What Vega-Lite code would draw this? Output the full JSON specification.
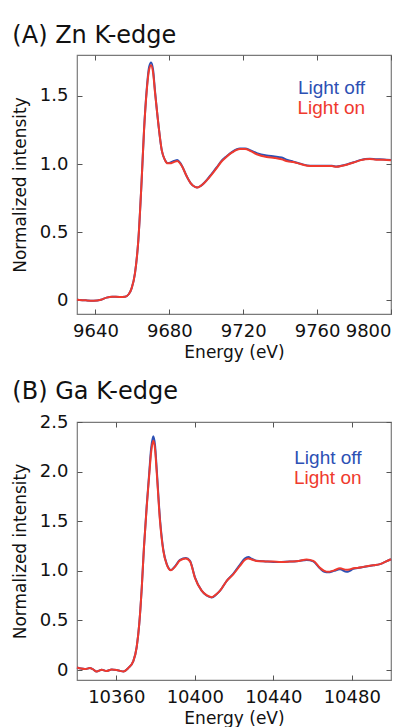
{
  "$schema": "https://vega.github.io/schema/vega-lite/v6.json",
  "padding": {"left": 10, "top": 22, "right": 5, "bottom": 5},
  "spacing": 18,
  "config": {
    "font": "DejaVu Sans",
    "view": {"stroke": "#7a7a7a", "strokeWidth": 1.2},
    "axis": {"domain": false, "grid": false, "tickColor": "#555555", "tickSize": -5, "tickWidth": 1, "labelFontSize": 18, "labelColor": "#111111", "titleFontSize": 17, "titleFontWeight": "normal", "titleColor": "#111111", "labelFont": "DejaVu Sans", "titleFont": "DejaVu Sans"},
    "title": {"fontSize": 24, "fontWeight": "normal", "color": "#111111", "font": "DejaVu Sans", "anchor": "start"},
    "line": {"strokeWidth": 2, "interpolate": "monotone"}
  },
  "datasets": {
    "zn": [
      {"E": 9630, "v": 0.005, "series": "Light off"},
      {"E": 9635, "v": 0.0, "series": "Light off"},
      {"E": 9639, "v": -0.002, "series": "Light off"},
      {"E": 9643, "v": 0.005, "series": "Light off"},
      {"E": 9646, "v": 0.02, "series": "Light off"},
      {"E": 9649, "v": 0.027, "series": "Light off"},
      {"E": 9653, "v": 0.025, "series": "Light off"},
      {"E": 9656, "v": 0.027, "series": "Light off"},
      {"E": 9658, "v": 0.045, "series": "Light off"},
      {"E": 9659.6, "v": 0.09, "series": "Light off"},
      {"E": 9661.4, "v": 0.2, "series": "Light off"},
      {"E": 9663.2, "v": 0.44, "series": "Light off"},
      {"E": 9665, "v": 0.88, "series": "Light off"},
      {"E": 9666.3, "v": 1.25, "series": "Light off"},
      {"E": 9667.7, "v": 1.54, "series": "Light off"},
      {"E": 9669, "v": 1.71, "series": "Light off"},
      {"E": 9670.1, "v": 1.745, "series": "Light off"},
      {"E": 9671.2, "v": 1.69, "series": "Light off"},
      {"E": 9672.2, "v": 1.54, "series": "Light off"},
      {"E": 9674, "v": 1.3, "series": "Light off"},
      {"E": 9675.9, "v": 1.1, "series": "Light off"},
      {"E": 9677.6, "v": 1.03, "series": "Light off"},
      {"E": 9679, "v": 1.008, "series": "Light off"},
      {"E": 9680.4, "v": 1.01, "series": "Light off"},
      {"E": 9682.5, "v": 1.022, "series": "Light off"},
      {"E": 9684.3, "v": 1.03, "series": "Light off"},
      {"E": 9685.8, "v": 1.01, "series": "Light off"},
      {"E": 9687, "v": 0.982, "series": "Light off"},
      {"E": 9689.4, "v": 0.91, "series": "Light off"},
      {"E": 9691.5, "v": 0.86, "series": "Light off"},
      {"E": 9693.9, "v": 0.832, "series": "Light off"},
      {"E": 9695, "v": 0.828, "series": "Light off"},
      {"E": 9697, "v": 0.84, "series": "Light off"},
      {"E": 9700.2, "v": 0.882, "series": "Light off"},
      {"E": 9703, "v": 0.93, "series": "Light off"},
      {"E": 9705.6, "v": 0.975, "series": "Light off"},
      {"E": 9708, "v": 1.02, "series": "Light off"},
      {"E": 9711, "v": 1.058, "series": "Light off"},
      {"E": 9714, "v": 1.09, "series": "Light off"},
      {"E": 9718.2, "v": 1.115, "series": "Light off"},
      {"E": 9721, "v": 1.115, "series": "Light off"},
      {"E": 9724, "v": 1.1, "series": "Light off"},
      {"E": 9727.3, "v": 1.08, "series": "Light off"},
      {"E": 9732.7, "v": 1.062, "series": "Light off"},
      {"E": 9737, "v": 1.056, "series": "Light off"},
      {"E": 9740.8, "v": 1.048, "series": "Light off"},
      {"E": 9744, "v": 1.03, "series": "Light off"},
      {"E": 9747.1, "v": 1.018, "series": "Light off"},
      {"E": 9751, "v": 1.002, "series": "Light off"},
      {"E": 9756.2, "v": 0.987, "series": "Light off"},
      {"E": 9763.4, "v": 0.988, "series": "Light off"},
      {"E": 9768, "v": 0.987, "series": "Light off"},
      {"E": 9770.6, "v": 0.982, "series": "Light off"},
      {"E": 9773, "v": 0.987, "series": "Light off"},
      {"E": 9776, "v": 0.997, "series": "Light off"},
      {"E": 9780, "v": 1.014, "series": "Light off"},
      {"E": 9783.2, "v": 1.029, "series": "Light off"},
      {"E": 9786, "v": 1.037, "series": "Light off"},
      {"E": 9788.6, "v": 1.039, "series": "Light off"},
      {"E": 9792, "v": 1.035, "series": "Light off"},
      {"E": 9796, "v": 1.034, "series": "Light off"},
      {"E": 9800, "v": 1.03, "series": "Light off"},
      {"E": 9630, "v": 0.005, "series": "Light on"},
      {"E": 9635, "v": 0.0, "series": "Light on"},
      {"E": 9639, "v": -0.002, "series": "Light on"},
      {"E": 9643, "v": 0.005, "series": "Light on"},
      {"E": 9646, "v": 0.02, "series": "Light on"},
      {"E": 9649, "v": 0.027, "series": "Light on"},
      {"E": 9653, "v": 0.025, "series": "Light on"},
      {"E": 9656, "v": 0.027, "series": "Light on"},
      {"E": 9658, "v": 0.045, "series": "Light on"},
      {"E": 9659.6, "v": 0.09, "series": "Light on"},
      {"E": 9661.4, "v": 0.2, "series": "Light on"},
      {"E": 9663.2, "v": 0.44, "series": "Light on"},
      {"E": 9665, "v": 0.88, "series": "Light on"},
      {"E": 9666.3, "v": 1.25, "series": "Light on"},
      {"E": 9667.7, "v": 1.53, "series": "Light on"},
      {"E": 9669, "v": 1.69, "series": "Light on"},
      {"E": 9670.1, "v": 1.725, "series": "Light on"},
      {"E": 9671.2, "v": 1.67, "series": "Light on"},
      {"E": 9672.2, "v": 1.53, "series": "Light on"},
      {"E": 9674, "v": 1.3, "series": "Light on"},
      {"E": 9675.9, "v": 1.1, "series": "Light on"},
      {"E": 9677.6, "v": 1.03, "series": "Light on"},
      {"E": 9679, "v": 1.005, "series": "Light on"},
      {"E": 9680.4, "v": 1.005, "series": "Light on"},
      {"E": 9682.5, "v": 1.015, "series": "Light on"},
      {"E": 9684.3, "v": 1.022, "series": "Light on"},
      {"E": 9685.8, "v": 1.005, "series": "Light on"},
      {"E": 9687, "v": 0.98, "series": "Light on"},
      {"E": 9689.4, "v": 0.91, "series": "Light on"},
      {"E": 9691.5, "v": 0.86, "series": "Light on"},
      {"E": 9693.9, "v": 0.832, "series": "Light on"},
      {"E": 9695, "v": 0.828, "series": "Light on"},
      {"E": 9697, "v": 0.84, "series": "Light on"},
      {"E": 9700.2, "v": 0.88, "series": "Light on"},
      {"E": 9703, "v": 0.925, "series": "Light on"},
      {"E": 9705.6, "v": 0.97, "series": "Light on"},
      {"E": 9708, "v": 1.015, "series": "Light on"},
      {"E": 9711, "v": 1.054, "series": "Light on"},
      {"E": 9714, "v": 1.085, "series": "Light on"},
      {"E": 9718.2, "v": 1.11, "series": "Light on"},
      {"E": 9721, "v": 1.11, "series": "Light on"},
      {"E": 9724, "v": 1.095, "series": "Light on"},
      {"E": 9727.3, "v": 1.072, "series": "Light on"},
      {"E": 9732.7, "v": 1.052, "series": "Light on"},
      {"E": 9737, "v": 1.045, "series": "Light on"},
      {"E": 9740.8, "v": 1.035, "series": "Light on"},
      {"E": 9744, "v": 1.02, "series": "Light on"},
      {"E": 9747.1, "v": 1.015, "series": "Light on"},
      {"E": 9751, "v": 1.0, "series": "Light on"},
      {"E": 9756.2, "v": 0.985, "series": "Light on"},
      {"E": 9763.4, "v": 0.986, "series": "Light on"},
      {"E": 9768, "v": 0.985, "series": "Light on"},
      {"E": 9770.6, "v": 0.98, "series": "Light on"},
      {"E": 9773, "v": 0.985, "series": "Light on"},
      {"E": 9776, "v": 0.995, "series": "Light on"},
      {"E": 9780, "v": 1.012, "series": "Light on"},
      {"E": 9783.2, "v": 1.027, "series": "Light on"},
      {"E": 9786, "v": 1.035, "series": "Light on"},
      {"E": 9788.6, "v": 1.037, "series": "Light on"},
      {"E": 9792, "v": 1.032, "series": "Light on"},
      {"E": 9796, "v": 1.032, "series": "Light on"},
      {"E": 9800, "v": 1.028, "series": "Light on"}
    ],
    "ga": [
      {"E": 10340, "v": 0.026, "series": "Light off"},
      {"E": 10342, "v": 0.015, "series": "Light off"},
      {"E": 10344, "v": 0.01, "series": "Light off"},
      {"E": 10346.6, "v": 0.02, "series": "Light off"},
      {"E": 10348, "v": 0.01, "series": "Light off"},
      {"E": 10350, "v": -0.014, "series": "Light off"},
      {"E": 10352.6, "v": 0.003, "series": "Light off"},
      {"E": 10355, "v": -0.01, "series": "Light off"},
      {"E": 10357.7, "v": 0.006, "series": "Light off"},
      {"E": 10360.2, "v": 0.0, "series": "Light off"},
      {"E": 10362, "v": -0.008, "series": "Light off"},
      {"E": 10363.6, "v": -0.014, "series": "Light off"},
      {"E": 10366.1, "v": 0.02, "series": "Light off"},
      {"E": 10368.7, "v": 0.09, "series": "Light off"},
      {"E": 10370.4, "v": 0.23, "series": "Light off"},
      {"E": 10371.7, "v": 0.46, "series": "Light off"},
      {"E": 10373, "v": 0.83, "series": "Light off"},
      {"E": 10374.1, "v": 1.23, "series": "Light off"},
      {"E": 10375.5, "v": 1.65, "series": "Light off"},
      {"E": 10376.7, "v": 1.96, "series": "Light off"},
      {"E": 10377.8, "v": 2.24, "series": "Light off"},
      {"E": 10378.9, "v": 2.357, "series": "Light off"},
      {"E": 10379.8, "v": 2.26, "series": "Light off"},
      {"E": 10380.6, "v": 2.03, "series": "Light off"},
      {"E": 10382.3, "v": 1.52, "series": "Light off"},
      {"E": 10384, "v": 1.21, "series": "Light off"},
      {"E": 10385.7, "v": 1.07, "series": "Light off"},
      {"E": 10387.9, "v": 1.008, "series": "Light off"},
      {"E": 10389.9, "v": 1.045, "series": "Light off"},
      {"E": 10392.5, "v": 1.112, "series": "Light off"},
      {"E": 10395.5, "v": 1.13, "series": "Light off"},
      {"E": 10397.6, "v": 1.1, "series": "Light off"},
      {"E": 10400.1, "v": 0.935, "series": "Light off"},
      {"E": 10403.5, "v": 0.8, "series": "Light off"},
      {"E": 10406, "v": 0.752, "series": "Light off"},
      {"E": 10408.6, "v": 0.732, "series": "Light off"},
      {"E": 10411, "v": 0.762, "series": "Light off"},
      {"E": 10412.9, "v": 0.8, "series": "Light off"},
      {"E": 10416.3, "v": 0.9, "series": "Light off"},
      {"E": 10419.6, "v": 0.97, "series": "Light off"},
      {"E": 10423, "v": 1.06, "series": "Light off"},
      {"E": 10425.5, "v": 1.125, "series": "Light off"},
      {"E": 10427.3, "v": 1.14, "series": "Light off"},
      {"E": 10429, "v": 1.122, "series": "Light off"},
      {"E": 10431.5, "v": 1.102, "series": "Light off"},
      {"E": 10436, "v": 1.095, "series": "Light off"},
      {"E": 10440, "v": 1.09, "series": "Light off"},
      {"E": 10444, "v": 1.09, "series": "Light off"},
      {"E": 10448.5, "v": 1.093, "series": "Light off"},
      {"E": 10453, "v": 1.1, "series": "Light off"},
      {"E": 10457, "v": 1.11, "series": "Light off"},
      {"E": 10460.4, "v": 1.095, "series": "Light off"},
      {"E": 10463.8, "v": 1.025, "series": "Light off"},
      {"E": 10466, "v": 0.99, "series": "Light off"},
      {"E": 10468, "v": 0.985, "series": "Light off"},
      {"E": 10471, "v": 1.0, "series": "Light off"},
      {"E": 10474, "v": 1.015, "series": "Light off"},
      {"E": 10477.4, "v": 0.99, "series": "Light off"},
      {"E": 10479, "v": 1.0, "series": "Light off"},
      {"E": 10480.8, "v": 1.02, "series": "Light off"},
      {"E": 10483, "v": 1.028, "series": "Light off"},
      {"E": 10485.9, "v": 1.038, "series": "Light off"},
      {"E": 10491, "v": 1.056, "series": "Light off"},
      {"E": 10494.4, "v": 1.068, "series": "Light off"},
      {"E": 10497, "v": 1.09, "series": "Light off"},
      {"E": 10500, "v": 1.117, "series": "Light off"},
      {"E": 10340, "v": 0.026, "series": "Light on"},
      {"E": 10342, "v": 0.015, "series": "Light on"},
      {"E": 10344, "v": 0.01, "series": "Light on"},
      {"E": 10346.6, "v": 0.02, "series": "Light on"},
      {"E": 10348, "v": 0.01, "series": "Light on"},
      {"E": 10350, "v": -0.014, "series": "Light on"},
      {"E": 10352.6, "v": 0.003, "series": "Light on"},
      {"E": 10355, "v": -0.01, "series": "Light on"},
      {"E": 10357.7, "v": 0.006, "series": "Light on"},
      {"E": 10360.2, "v": 0.0, "series": "Light on"},
      {"E": 10362, "v": -0.008, "series": "Light on"},
      {"E": 10363.6, "v": -0.014, "series": "Light on"},
      {"E": 10366.1, "v": 0.02, "series": "Light on"},
      {"E": 10368.7, "v": 0.09, "series": "Light on"},
      {"E": 10370.4, "v": 0.23, "series": "Light on"},
      {"E": 10371.7, "v": 0.46, "series": "Light on"},
      {"E": 10373, "v": 0.83, "series": "Light on"},
      {"E": 10374.1, "v": 1.23, "series": "Light on"},
      {"E": 10375.5, "v": 1.64, "series": "Light on"},
      {"E": 10376.7, "v": 1.94, "series": "Light on"},
      {"E": 10377.8, "v": 2.2, "series": "Light on"},
      {"E": 10378.9, "v": 2.31, "series": "Light on"},
      {"E": 10379.8, "v": 2.22, "series": "Light on"},
      {"E": 10380.6, "v": 2.0, "series": "Light on"},
      {"E": 10382.3, "v": 1.5, "series": "Light on"},
      {"E": 10384, "v": 1.2, "series": "Light on"},
      {"E": 10385.7, "v": 1.066, "series": "Light on"},
      {"E": 10387.9, "v": 1.006, "series": "Light on"},
      {"E": 10389.9, "v": 1.04, "series": "Light on"},
      {"E": 10392.5, "v": 1.105, "series": "Light on"},
      {"E": 10395.5, "v": 1.125, "series": "Light on"},
      {"E": 10397.6, "v": 1.095, "series": "Light on"},
      {"E": 10400.1, "v": 0.93, "series": "Light on"},
      {"E": 10403.5, "v": 0.8, "series": "Light on"},
      {"E": 10406, "v": 0.755, "series": "Light on"},
      {"E": 10408.6, "v": 0.735, "series": "Light on"},
      {"E": 10411, "v": 0.765, "series": "Light on"},
      {"E": 10412.9, "v": 0.8, "series": "Light on"},
      {"E": 10416.3, "v": 0.9, "series": "Light on"},
      {"E": 10419.6, "v": 0.965, "series": "Light on"},
      {"E": 10423, "v": 1.05, "series": "Light on"},
      {"E": 10425.5, "v": 1.11, "series": "Light on"},
      {"E": 10427.3, "v": 1.125, "series": "Light on"},
      {"E": 10429, "v": 1.115, "series": "Light on"},
      {"E": 10431.5, "v": 1.1, "series": "Light on"},
      {"E": 10436, "v": 1.095, "series": "Light on"},
      {"E": 10440, "v": 1.093, "series": "Light on"},
      {"E": 10444, "v": 1.088, "series": "Light on"},
      {"E": 10448.5, "v": 1.093, "series": "Light on"},
      {"E": 10453, "v": 1.1, "series": "Light on"},
      {"E": 10457, "v": 1.115, "series": "Light on"},
      {"E": 10460.4, "v": 1.1, "series": "Light on"},
      {"E": 10463.8, "v": 1.03, "series": "Light on"},
      {"E": 10466, "v": 1.0, "series": "Light on"},
      {"E": 10468, "v": 0.99, "series": "Light on"},
      {"E": 10471, "v": 1.005, "series": "Light on"},
      {"E": 10474, "v": 1.025, "series": "Light on"},
      {"E": 10477.4, "v": 1.01, "series": "Light on"},
      {"E": 10479, "v": 1.015, "series": "Light on"},
      {"E": 10480.8, "v": 1.026, "series": "Light on"},
      {"E": 10483, "v": 1.03, "series": "Light on"},
      {"E": 10485.9, "v": 1.04, "series": "Light on"},
      {"E": 10491, "v": 1.056, "series": "Light on"},
      {"E": 10494.4, "v": 1.068, "series": "Light on"},
      {"E": 10497, "v": 1.09, "series": "Light on"},
      {"E": 10500, "v": 1.117, "series": "Light on"}
    ],
    "znLegend": [
      {"E": 9786, "v": 1.555, "series": "Light off"},
      {"E": 9786, "v": 1.41, "series": "Light on"}
    ],
    "gaLegend": [
      {"E": 10485, "v": 2.135, "series": "Light off"},
      {"E": 10485, "v": 1.935, "series": "Light on"}
    ]
  },
  "vconcat": [
    {
      "width": 314,
      "height": 259,
      "title": {"text": "(A) Zn K-edge", "dx": 1, "offset": 7},
      "layer": [
        {
          "data": {"name": "zn"},
          "mark": {"type": "line"},
          "encoding": {
            "x": {"field": "E", "type": "quantitative", "scale": {"domain": [9630, 9800], "nice": false, "zero": false},
                  "axis": {"orient": "bottom", "values": [9640, 9680, 9720, 9760, 9800], "format": "d", "title": "Energy (eV)", "labelPadding": 13, "titlePadding": 4}},
            "y": {"field": "v", "type": "quantitative", "scale": {"domain": [-0.1, 1.8], "nice": false, "zero": false},
                  "axis": {"orient": "left", "values": [0, 0.5, 1, 1.5], "labelExpr": "datum.value == 0 ? '0' : format(datum.value, '.1f')", "title": "Normalized intensity", "labelPadding": 14, "titlePadding": 10}},
            "color": {"field": "series", "type": "nominal", "scale": {"domain": ["Light off", "Light on"], "range": ["#2d50b4", "#ef3a2e"]}, "legend": null}
          }
        },
        {
          "data": {"name": "znLegend"},
          "mark": {"type": "text", "align": "right", "baseline": "middle", "fontSize": 19, "font": "Liberation Sans"},
          "encoding": {
            "x": {"field": "E", "type": "quantitative", "scale": {"domain": [9630, 9800], "nice": false, "zero": false},
                  "axis": {"orient": "top", "values": [9640, 9680, 9720, 9760, 9800], "labels": false, "title": null}},
            "y": {"field": "v", "type": "quantitative", "scale": {"domain": [-0.1, 1.8], "nice": false, "zero": false},
                  "axis": {"orient": "right", "values": [0, 0.5, 1, 1.5], "labels": false, "title": null}},
            "text": {"field": "series"},
            "color": {"field": "series", "type": "nominal", "scale": {"domain": ["Light off", "Light on"], "range": ["#2d50b4", "#ef3a2e"]}, "legend": null}
          }
        }
      ],
      "resolve": {"axis": {"x": "independent", "y": "independent"}}
    },
    {
      "width": 314,
      "height": 258,
      "title": {"text": "(B) Ga K-edge", "dx": 1, "offset": 9},
      "layer": [
        {
          "data": {"name": "ga"},
          "mark": {"type": "line"},
          "encoding": {
            "x": {"field": "E", "type": "quantitative", "scale": {"domain": [10340, 10500], "nice": false, "zero": false},
                  "axis": {"orient": "bottom", "values": [10360, 10400, 10440, 10480], "format": "d", "title": "Energy (eV)", "labelPadding": 13, "titlePadding": 4}},
            "y": {"field": "v", "type": "quantitative", "scale": {"domain": [-0.1, 2.5], "nice": false, "zero": false},
                  "axis": {"orient": "left", "values": [0, 0.5, 1, 1.5, 2, 2.5], "labelExpr": "datum.value == 0 ? '0' : format(datum.value, '.1f')", "title": "Normalized intensity", "labelPadding": 14, "titlePadding": 10}},
            "color": {"field": "series", "type": "nominal", "scale": {"domain": ["Light off", "Light on"], "range": ["#2d50b4", "#ef3a2e"]}, "legend": null}
          }
        },
        {
          "data": {"name": "gaLegend"},
          "mark": {"type": "text", "align": "right", "baseline": "middle", "fontSize": 19, "font": "Liberation Sans"},
          "encoding": {
            "x": {"field": "E", "type": "quantitative", "scale": {"domain": [10340, 10500], "nice": false, "zero": false},
                  "axis": {"orient": "top", "values": [10360, 10400, 10440, 10480], "labels": false, "title": null}},
            "y": {"field": "v", "type": "quantitative", "scale": {"domain": [-0.1, 2.5], "nice": false, "zero": false},
                  "axis": {"orient": "right", "values": [0, 0.5, 1, 1.5, 2, 2.5], "labels": false, "title": null}},
            "text": {"field": "series"},
            "color": {"field": "series", "type": "nominal", "scale": {"domain": ["Light off", "Light on"], "range": ["#2d50b4", "#ef3a2e"]}, "legend": null}
          }
        }
      ],
      "resolve": {"axis": {"x": "independent", "y": "independent"}}
    }
  ]
}
